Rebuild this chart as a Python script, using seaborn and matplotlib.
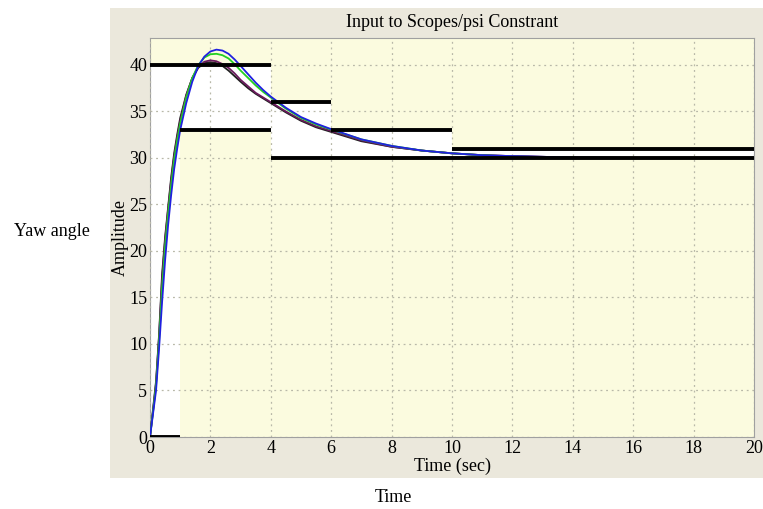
import numpy as np
import pandas as pd
import matplotlib
matplotlib.use("Agg")
import matplotlib.pyplot as plt
import seaborn as sns

# ---- data ----
time = [0, 0.1, 0.2, 0.3, 0.4, 0.5, 0.6, 0.7, 0.8, 0.9, 1.0, 1.2, 1.4, 1.6, 1.8,
        2.0, 2.2, 2.4, 2.6, 2.8, 3.0, 3.25, 3.5, 3.75, 4.0, 4.5, 5.0, 5.5, 6.0,
        7.0, 8.0, 9.0, 10.0, 11.0, 12.0, 14.0, 16.0, 18.0, 20.0]
black  = [0, 3.0, 6.0, 11.0, 17.5, 21.5, 24.7, 27.9, 30.5, 32.5, 34.3, 36.8, 38.6, 39.7, 40.2,
          40.3, 40.2, 39.9, 39.4, 38.8, 38.2, 37.5, 36.9, 36.4, 35.9, 34.9, 34.0, 33.3, 32.8,
          31.8, 31.2, 30.8, 30.5, 30.3, 30.2, 30.05, 30.0, 30.0, 30.0]
purple = [0, 2.8, 5.8, 10.8, 17.0, 21.2, 24.5, 27.6, 30.2, 32.2, 34.0, 36.7, 38.6, 39.8, 40.35,
          40.5, 40.4, 40.1, 39.7, 39.1, 38.4, 37.7, 37.0, 36.5, 36.0, 35.0, 34.1, 33.4, 32.9,
          31.9, 31.2, 30.8, 30.5, 30.3, 30.2, 30.05, 30.0, 30.0, 30.0]
green  = [0, 2.7, 5.5, 10.3, 16.0, 20.5, 24.0, 27.1, 29.8, 31.9, 33.7, 36.5, 38.6, 40.0, 40.8,
          41.15, 41.2, 41.05, 40.7, 40.1, 39.4, 38.6, 37.8, 37.1, 36.5, 35.3, 34.3, 33.6, 33.05,
          32.0, 31.3, 30.8, 30.5, 30.3, 30.15, 30.05, 30.0, 30.0, 30.0]
blue   = [0, 2.5, 5.0, 9.5, 14.5, 19.0, 22.8, 26.0, 28.8, 31.0, 33.0, 35.9, 38.2, 39.9, 40.9,
          41.45, 41.65, 41.55, 41.2, 40.6, 39.9, 39.0, 38.1, 37.3, 36.6, 35.4, 34.4, 33.7, 33.1,
          32.0, 31.3, 30.8, 30.5, 30.3, 30.2, 30.05, 30.0, 30.0, 30.0]

# constraint bounds (segments: start, end, level)
upper_t0 = [0, 4, 6, 10]
upper_t1 = [4, 6, 10, 20]
upper_y  = [40, 36, 33, 31]
lower_t0 = [0, 1, 4]
lower_t1 = [1, 4, 20]
lower_y  = [0, 33, 30]

title = "Input to Scopes/psi Constrant"
xlabel = "Time (sec)"
ylabel = "Amplitude"
xticks = [0, 2, 4, 6, 8, 10, 12, 14, 16, 18, 20]
yticks = [0, 5, 10, 15, 20, 25, 30, 35, 40]

# ---- build long table ----
series = {"black": black, "purple": purple, "green": green, "blue": blue}
rows = []
for name, vals in series.items():
    for t, v in zip(time, vals):
        rows.append({"Time": t, "Amplitude": v, "run": name})
df = pd.DataFrame(rows)

sns.set_theme(style="white")
plt.rcParams["font.family"] = ["Liberation Serif", "DejaVu Serif"]
plt.rcParams["text.color"] = "black"
plt.rcParams["axes.labelcolor"] = "black"
plt.rcParams["xtick.labelcolor"] = "black"
plt.rcParams["ytick.labelcolor"] = "black"

fig = plt.figure(figsize=(7.63, 5.09), dpi=100)
fig.patch.set_facecolor("white")
# beige scope panel (as a background axes)
bg = fig.add_axes([110 / 763, 1 - 478 / 509, 1 - 110 / 763, (478 - 8) / 509], zorder=-5)
bg.set_facecolor("#ebe8dc")
bg.set_xticks([])
bg.set_yticks([])
for sp in bg.spines.values():
    sp.set_visible(False)

ax = fig.add_axes([150 / 763, 1 - 437 / 509, (754 - 150) / 763, (437 - 38) / 509], zorder=1)
ax.set_facecolor("#fbfbdf")

xmax, ymax = 20, 42.9
# white allowed region between lower and upper bounds
edges = sorted(set(upper_t0 + upper_t1 + lower_t0 + lower_t1))
for a, b in zip(edges[:-1], edges[1:]):
    mid = (a + b) / 2
    up = [y for s, e, y in zip(upper_t0, upper_t1, upper_y) if s <= mid < e][0]
    lo = [y for s, e, y in zip(lower_t0, lower_t1, lower_y) if s <= mid < e][0]
    ax.fill_between([a, b], [lo, lo], [up, up], color="white", lw=0, zorder=0.5)

ax.grid(True, color="#b8b8a8", linestyle=(0, (1.5, 3)), linewidth=0.9, zorder=1)
ax.set_axisbelow(False)

palette = {"blue": "#2020e0", "green": "#22d022", "purple": "#6a1a5c", "black": "#202020"}
sns.lineplot(data=df, x="Time", y="Amplitude", hue="run", palette=palette,
             hue_order=["black", "purple", "green", "blue"],
             linewidth=1.3, ax=ax, legend=False, zorder=3, sort=True)

for s, e, y in zip(upper_t0, upper_t1, upper_y):
    ax.plot([s, e], [y, y], color="black", lw=2.8, solid_capstyle="butt", zorder=4)
for s, e, y in zip(lower_t0, lower_t1, lower_y):
    ax.plot([s, e], [y, y], color="black", lw=2.8, solid_capstyle="butt", zorder=4)

ax.set_xlim(0, xmax)
ax.set_ylim(0, ymax)
ax.set_xticks(xticks)
ax.set_yticks(yticks)
ax.tick_params(direction="in", length=3, color="#888888", labelcolor="black",
               labelsize=13, pad=2)
for sp in ax.spines.values():
    sp.set_color("#a0a0a0")
    sp.set_linewidth(0.8)

ax.set_title(title, fontsize=13, pad=8, color="black")
ax.set_xlabel(xlabel, fontsize=13, labelpad=1, color="black")
ax.set_ylabel(ylabel, fontsize=13, labelpad=0, color="black")

fig.text(52 / 763, 1 - 232 / 509, "Yaw angle", fontsize=13, ha="center", va="center", color="black")
fig.text(393 / 763, 1 - 497 / 509, "Time", fontsize=13, ha="center", va="center", color="black")

fig.savefig("out.png", dpi=100, facecolor=fig.get_facecolor())
